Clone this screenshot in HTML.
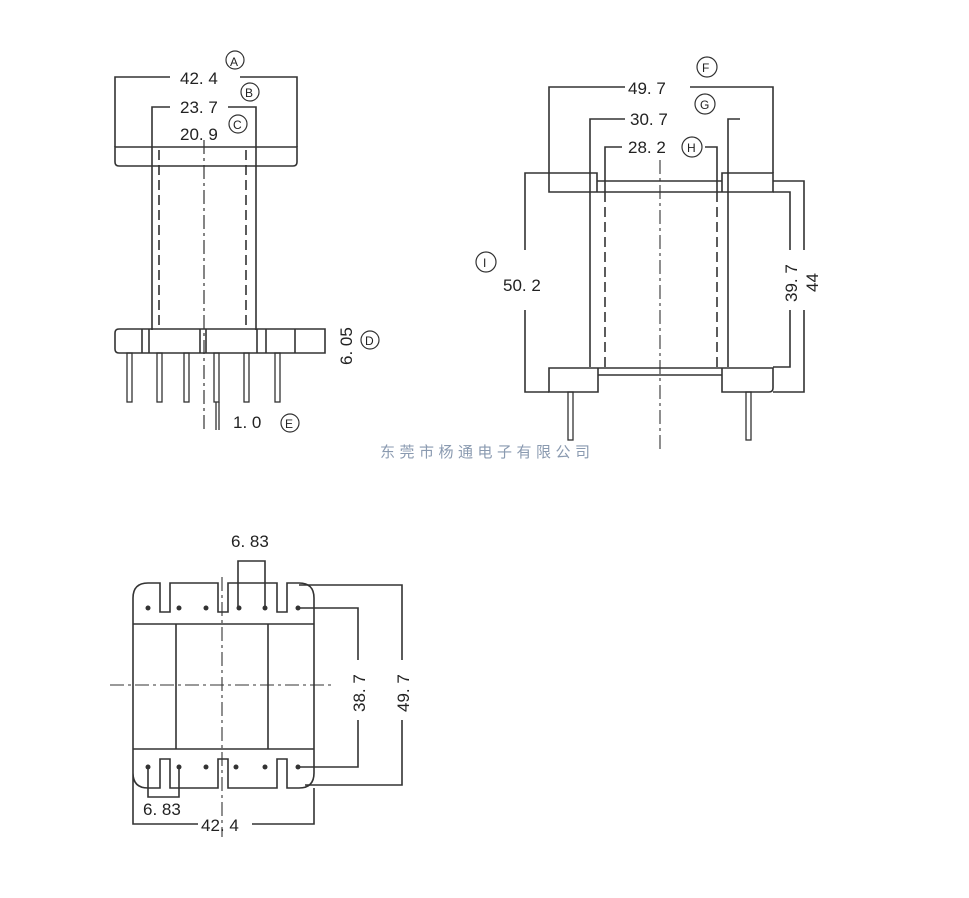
<!DOCTYPE html>
<html><head><meta charset="utf-8"><style>
html,body{margin:0;padding:0;background:#fff;}
svg{display:block;}
text{font-family:"Liberation Sans",sans-serif;fill:#222;}
</style></head><body>
<svg width="969" height="898" viewBox="0 0 969 898" xmlns="http://www.w3.org/2000/svg">
<rect width="969" height="898" fill="#fff"/>
<g stroke="#333" stroke-width="1.6" fill="none">
<path d="M115 147 H297 V162 Q297 166 293 166 H119 Q115 166 115 162 Z"/>
<path d="M115 147 V77 H170 M240 77 H297 V147"/>
<path d="M152 330 V107 H170 M228 107 H256 V330"/>
<path d="M159 150 V328 M246 150 V328" stroke-dasharray="10 5"/>
<path d="M204 140 V430" stroke-dasharray="14 4 3 4" stroke-width="1.2"/>
<path d="M119 329 H325 V353 H119 Q115 353 115 349 V333 Q115 329 119 329 Z"/>
<path d="M142 329 V353 M149 329 V353 M200 329 V353 M206 329 V353 M257 329 V353 M266 329 V353 M295 329 V353"/>
<g stroke-width="1.3">
<rect x="127" y="353" width="5" height="49"/>
<rect x="157" y="353" width="5" height="49"/>
<rect x="184" y="353" width="5" height="49"/>
<rect x="214" y="353" width="5" height="49"/>
<rect x="244" y="353" width="5" height="49"/>
<rect x="275" y="353" width="5" height="49"/>
<path d="M216 402 V430 M219 402 V430"/>
</g>
<circle cx="235" cy="60" r="9" stroke-width="1.2"/>
<circle cx="250" cy="92" r="9" stroke-width="1.2"/>
<circle cx="238" cy="124" r="9" stroke-width="1.2"/>
<circle cx="370" cy="340" r="9" stroke-width="1.2"/>
<circle cx="290" cy="423" r="9" stroke-width="1.2"/>

<path d="M549 173 V87 H625 M690 87 H773 V173"/>
<path d="M590 367 V119 H625 M740 119 H728 V367"/>
<path d="M605 192 V147 H622 M705 147 H717 V192"/>
<path d="M605 192 V367 M717 192 V367" stroke-dasharray="10 5"/>
<path d="M660 160 V450" stroke-dasharray="14 4 3 4" stroke-width="1.1"/>
<path d="M549 173 H597 V192 H549 Z M597 181 H722 M597 192 H722 M722 173 H773 V192 H722 Z"/>
<path d="M549 368 H598 V392 H549 Z M598 368 H722 M598 375 H722 M722 368 H773 V388 Q773 392 769 392 H722 Z"/>
<rect x="568" y="392" width="5" height="48" stroke-width="1.3"/>
<rect x="746" y="392" width="5" height="48" stroke-width="1.3"/>
<path d="M549 173 H525 V250 M525 310 V392 H549"/>
<path d="M773 192 H790 V250 M790 310 V367 H773"/>
<path d="M773 181 H804 V250 M804 310 V392 H773"/>
<circle cx="707" cy="67" r="10" stroke-width="1.2"/>
<circle cx="705" cy="104" r="10" stroke-width="1.2"/>
<circle cx="692" cy="147" r="10" stroke-width="1.2"/>
<circle cx="486" cy="262" r="10" stroke-width="1.2"/>

<path d="M133 788 V598 Q133 583 148 583 H160 V612 H170 V583 H218 V612 H228 V583 H277 V612 H287 V583 H299 Q314 583 314 598 V773 Q314 788 299 788 H287 V759 H277 V788 H228 V759 H218 V788 H170 V759 H160 V788 H148 Q133 788 133 773"/>
<path d="M133 624 H314 M133 749 H314 M176 624 V749 M268 624 V749"/>
<path d="M222 577 V837 M110 685 H335" stroke-dasharray="14 4 3 4" stroke-width="1.1"/>
<path d="M238 608 V561 H265 V608"/>
<path d="M298 608 H358 V660 M358 720 V767 H298"/>
<path d="M299 585 H402 V660 M402 720 V785 H305"/>
<path d="M148 767 V797 H179 V767"/>
<path d="M133 788 V824 H198 M252 824 H314 V788"/>
</g>
<g fill="#333">
<circle cx="148" cy="608" r="2.5"/><circle cx="179" cy="608" r="2.5"/><circle cx="206" cy="608" r="2.5"/><circle cx="239" cy="608" r="2.5"/><circle cx="265" cy="608" r="2.5"/><circle cx="298" cy="608" r="2.5"/>
<circle cx="148" cy="767" r="2.5"/><circle cx="179" cy="767" r="2.5"/><circle cx="206" cy="767" r="2.5"/><circle cx="236" cy="767" r="2.5"/><circle cx="265" cy="767" r="2.5"/><circle cx="298" cy="767" r="2.5"/>
</g>
<g font-size="17">
<text x="180" y="84">42. 4</text>
<text x="180" y="113">23. 7</text>
<text x="180" y="140">20. 9</text>
<text x="233" y="428">1. 0</text>
<text transform="translate(352,365) rotate(-90)">6. 05</text>
<text x="230" y="66" font-size="12">A</text>
<text x="245" y="97" font-size="12">B</text>
<text x="233" y="129" font-size="12">C</text>
<text x="365" y="345" font-size="12">D</text>
<text x="285" y="428" font-size="12">E</text>

<text x="628" y="94">49. 7</text>
<text x="630" y="125">30. 7</text>
<text x="628" y="153">28. 2</text>
<text x="503" y="291">50. 2</text>
<text transform="translate(797,302) rotate(-90)">39. 7</text>
<text transform="translate(818,292) rotate(-90)">44</text>
<text x="702" y="72" font-size="12">F</text>
<text x="700" y="109" font-size="12">G</text>
<text x="687" y="152" font-size="12">H</text>
<text x="483" y="267" font-size="12">I</text>

<text x="231" y="547">6. 83</text>
<text x="143" y="815">6. 83</text>
<text x="201" y="831">42. 4</text>
<text transform="translate(365,712) rotate(-90)">38. 7</text>
<text transform="translate(409,712) rotate(-90)">49. 7</text>
</g>
<text x="380" y="457" font-size="15" letter-spacing="4.5" style="font-family:'Liberation Sans','Noto Sans CJK SC',sans-serif;fill:#8a9ab0">东莞市杨通电子有限公司</text>
</svg>
</body></html>
